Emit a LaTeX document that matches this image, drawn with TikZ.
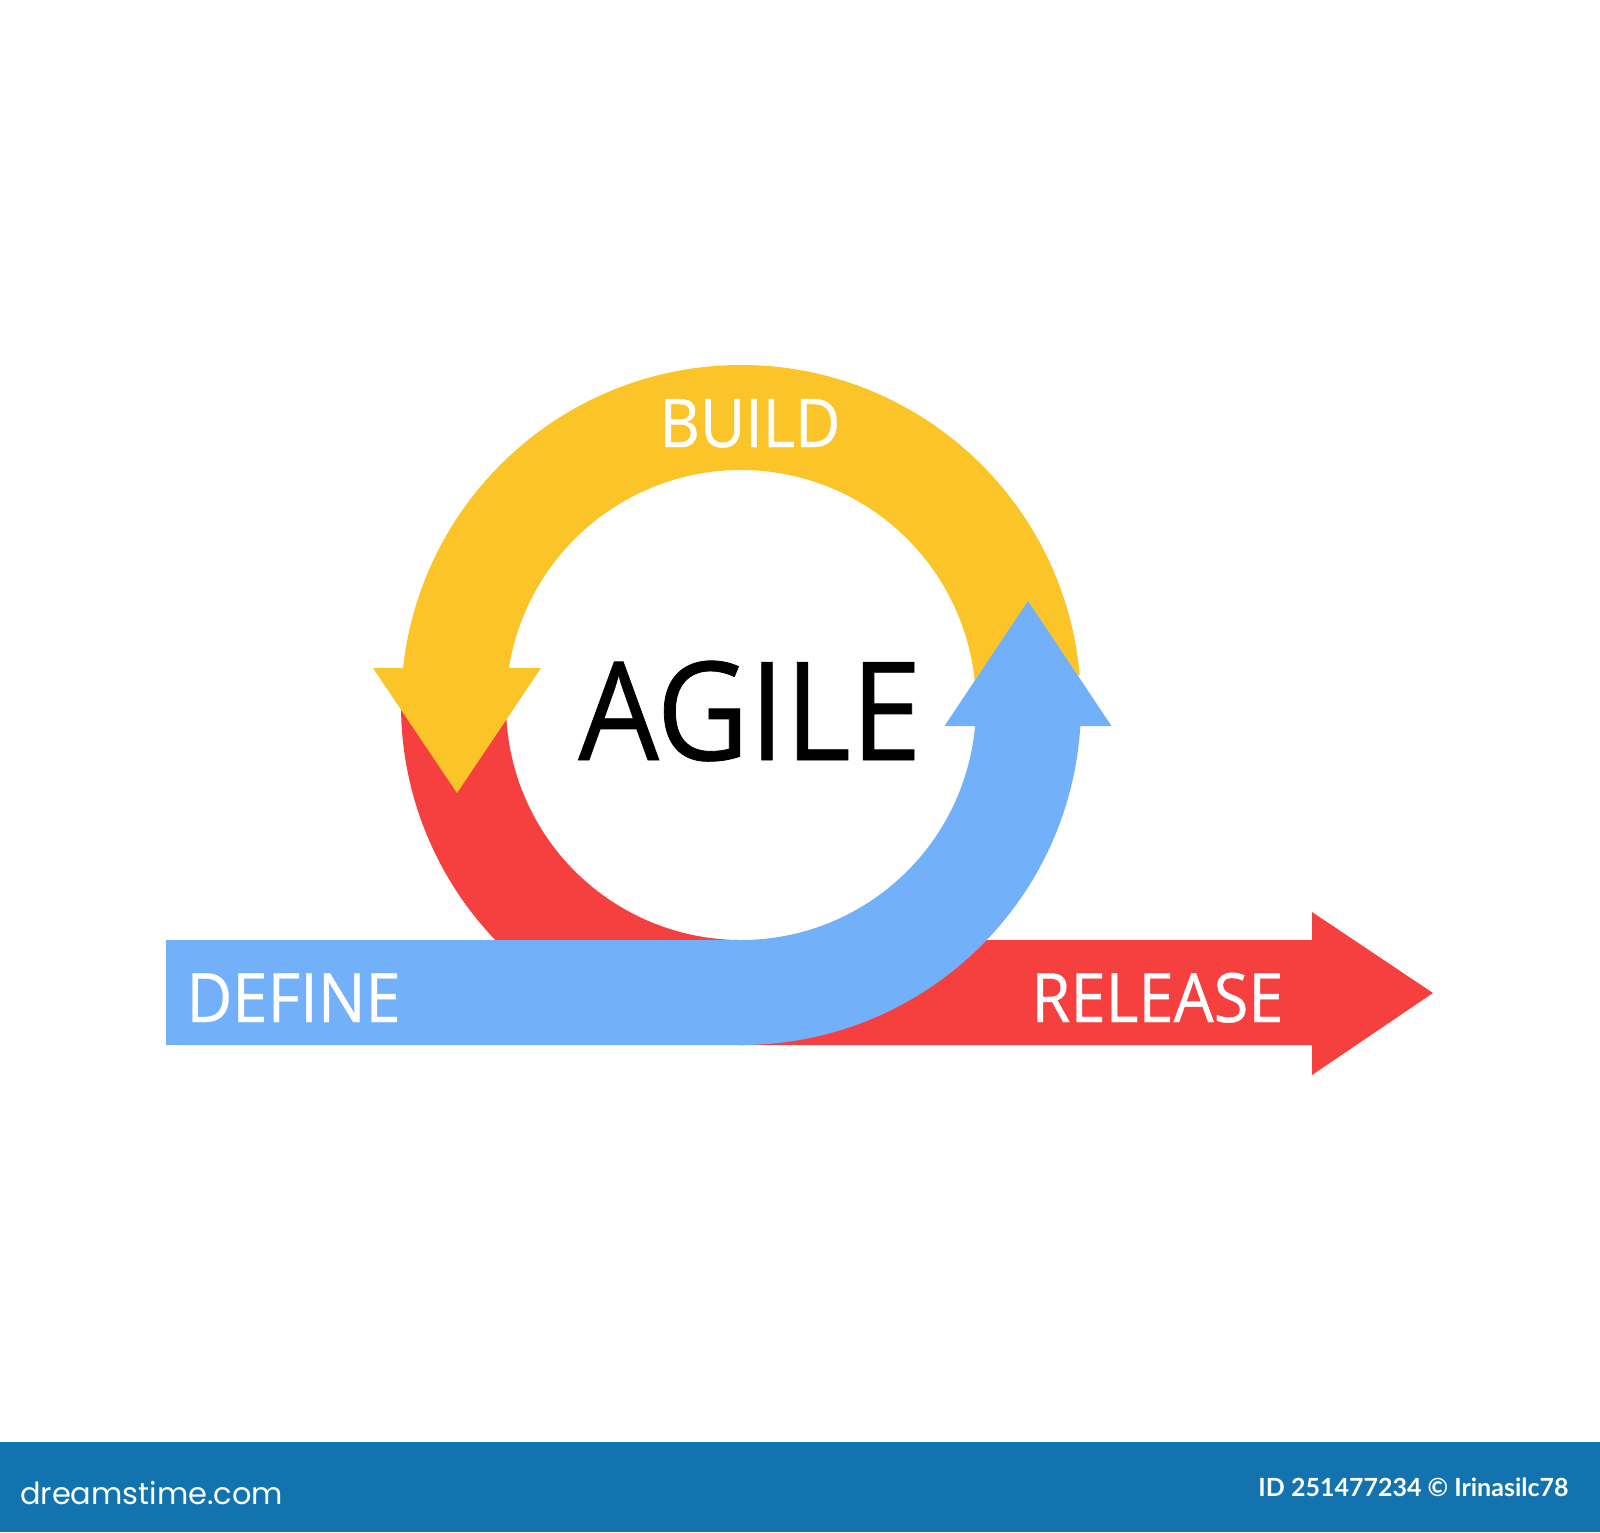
\documentclass[tikz,border=0pt]{standalone}
\usepackage{fontspec}
\setmainfont{Open Sans}
\newfontfamily\labelfont[FakeBold=0.6]{Open Sans}
\newfontfamily\bannerfont{Poppins}
\newfontfamily\idfont{Lato}
\usetikzlibrary{calc}
\definecolor{agyellow}{HTML}{FBC52A}
\definecolor{agred}{HTML}{F64040}
\definecolor{agblue}{HTML}{72B0FA}
\definecolor{banner}{HTML}{1273AE}
\newcommand{\narrowtext}[1]{\scalebox{0.93}[1]{#1}}
\tikzset{
  lbl/.style={text=white, anchor=base, inner sep=0pt},
  band/.style={draw=none}
}
\begin{document}
\begin{tikzpicture}[x=1pt,y=1pt]
\fill[white] (0,0) rectangle (1600,-1532);
\useasboundingbox (0,0) rectangle (1600,-1532);
\coordinate (C) at (741,-705);
% red: loop bottom-left, then straight arrow to the right
\fill[agred,band] ($(C)+(179:340pt)$) arc[start angle=179,end angle=270,radius=340pt]
  -- (1312,-1045) -- (1312,-1075) -- (1433,-993) -- (1312,-912) -- (1312,-940)
  -- (741,-940) arc[start angle=270,end angle=179,radius=235pt] -- cycle;
% yellow: top arc with arrowhead pointing down on the left
\fill[agyellow,band] ($(C)+(5:340pt)$) arc[start angle=5,end angle=173.75,radius=340pt]
  -- (373,-668) -- (457,-793) -- (541,-668)
  -- ($(C)+(170.94:235pt)$) arc[start angle=170.94,end angle=5,radius=235pt] -- cycle;
% blue: straight bar from the left, then arc up with arrowhead
\fill[agblue,band] (166,-940) -- (166,-1045) -- (741,-1045)
  arc[start angle=270,end angle=356.46,radius=340pt]
  -- (1111.5,-726) -- (1028,-601) -- (944.5,-726)
  -- ($(C)+(354.87:235pt)$) arc[start angle=354.87,end angle=270,radius=235pt] -- cycle;
% labels
\node[lbl, font=\labelfont\fontsize{67}{67}\selectfont] (build) at (750,-447) {\narrowtext{BUILD}};
\node[lbl, text=black, font=\labelfont\fontsize{137}{137}\selectfont] (agile) at (750,-760) {\narrowtext{AGILE}};
\node[lbl, font=\labelfont\fontsize{68}{68}\selectfont] (define) at (293.5,-1022) {\narrowtext{DEFINE}};
\node[lbl, font=\labelfont\fontsize{68}{68}\selectfont] (release) at (1157.5,-1022) {\narrowtext{RELEASE}};
% banner
\fill[banner] (0,-1442) rectangle (1600,-1532);
\node[text=white, anchor=base west, inner sep=0pt, font=\bannerfont\fontsize{40}{40}\selectfont] (site) at (20,-1504) {\resizebox{263pt}{!}{dreamstime.com}};
\node[lbl, font=\idfont\bfseries\fontsize{25}{25}\selectfont] (id) at (1413.5,-1496) {ID 251477234 © Irinasilc78};
\end{tikzpicture}
\end{document}
